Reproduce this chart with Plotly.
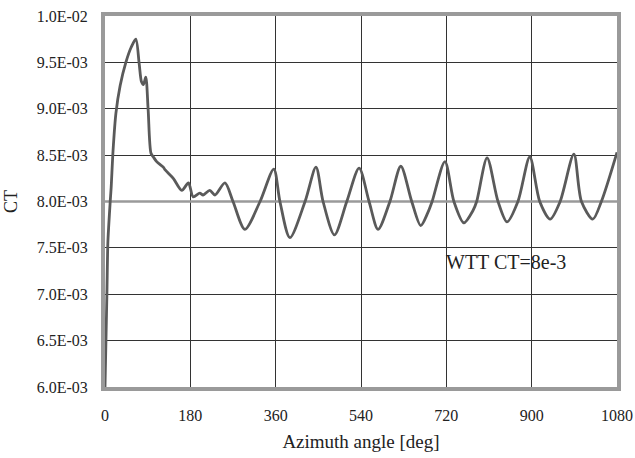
import plotly.graph_objects as go

# Azimuth angle [deg] and CT values
angle = [0, 4, 6, 8, 11, 13, 17, 23, 32, 44, 55, 65, 72, 77, 81, 86, 91, 97, 102,
         109, 123, 127, 144, 162, 176, 186, 200, 207, 221, 232, 253,
         270, 295, 327, 356, 369, 390, 422, 445, 460, 484,
         510, 536, 557, 576, 601, 624, 647, 666, 681, 690, 717, 736, 757, 776, 784,
         806, 829, 848, 871, 896, 917, 939, 960, 989, 1005, 1029, 1047, 1080]
ct = [6.0e-3, 7.0e-3, 7.55e-3, 7.75e-3, 8.0e-3, 8.15e-3, 8.55e-3, 8.95e-3, 9.25e-3, 9.5e-3, 9.66e-3, 9.75e-3,
      9.49e-3, 9.29e-3, 9.26e-3, 9.34e-3, 8.99e-3, 8.52e-3, 8.48e-3,
      8.43e-3, 8.37e-3, 8.34e-3, 8.25e-3, 8.12e-3, 8.20e-3, 8.05e-3, 8.09e-3, 8.07e-3, 8.12e-3, 8.07e-3, 8.20e-3,
      8.0e-3, 7.70e-3, 8.0e-3, 8.35e-3, 8.0e-3, 7.61e-3, 8.0e-3, 8.37e-3, 8.0e-3, 7.64e-3,
      8.0e-3, 8.36e-3, 8.0e-3, 7.70e-3, 8.0e-3, 8.38e-3, 8.0e-3, 7.74e-3, 7.88e-3, 8.0e-3, 8.43e-3, 8.0e-3, 7.77e-3, 7.90e-3, 8.0e-3,
      8.47e-3, 8.0e-3, 7.78e-3, 8.0e-3, 8.48e-3, 8.0e-3, 7.81e-3, 8.0e-3, 8.51e-3, 8.0e-3, 7.81e-3, 8.0e-3, 8.53e-3]

wtt_angle = [0, 1080]
wtt_ct = [8.0e-3, 8.0e-3]

x_ticks = [0, 180, 360, 540, 720, 900, 1080]
y_ticks = [6.0e-3, 6.5e-3, 7.0e-3, 7.5e-3, 8.0e-3, 8.5e-3, 9.0e-3, 9.5e-3, 1.0e-2]
y_tick_labels = ["6.0E-03", "6.5E-03", "7.0E-03", "7.5E-03", "8.0E-03",
                 "8.5E-03", "9.0E-03", "9.5E-03", "1.0E-02"]

font_family = "Liberation Serif, 'Times New Roman', 'DejaVu Serif', serif"

fig = go.Figure()
fig.add_trace(go.Scatter(x=wtt_angle, y=wtt_ct, mode="lines",
                         line=dict(color="#9a9a9a", width=2.5),
                         showlegend=False, hoverinfo="skip"))
fig.add_trace(go.Scatter(x=angle, y=ct, mode="lines",
                         line=dict(color="#5a5a5a", width=2.8, shape="spline", smoothing=0.8),
                         showlegend=False))

fig.add_annotation(x=846, y=7.35e-3, text="WTT CT=8e-3", showarrow=False,
                   font=dict(family=font_family, size=20, color="#222"))

fig.update_layout(
    width=635, height=458,
    margin=dict(l=105, r=18, t=16, b=71, autoexpand=False),
    paper_bgcolor="white", plot_bgcolor="white",
    font=dict(family=font_family, size=16, color="#222"),
    xaxis=dict(range=[0, 1080], tickvals=x_ticks, ticktext=[str(v) for v in x_ticks],
               showgrid=True, gridcolor="#333", gridwidth=1,
               showline=True, mirror=True, linecolor="#9a9a9a", linewidth=4,
               ticks="outside", ticklen=11, tickcolor="rgba(0,0,0,0)",
               zeroline=False, automargin=False,
               tickfont=dict(family=font_family, size=16),
               title=dict(text="Azimuth angle [deg]", font=dict(family=font_family, size=19), standoff=12)),
    yaxis=dict(range=[6.0e-3, 1.0e-2], tickvals=y_ticks, ticktext=y_tick_labels,
               showgrid=True, gridcolor="#333", gridwidth=1,
               showline=True, mirror=True, linecolor="#9a9a9a", linewidth=4,
               ticks="outside", ticklen=10, tickcolor="rgba(0,0,0,0)",
               zeroline=False, automargin=False,
               tickfont=dict(family=font_family, size=16),
               title=dict(text="CT", font=dict(family=font_family, size=18), standoff=15)),
)

fig.write_html("out.html", config={"displayModeBar": False},
               post_script="document.body.style.margin='0';document.body.style.overflow='hidden';")
